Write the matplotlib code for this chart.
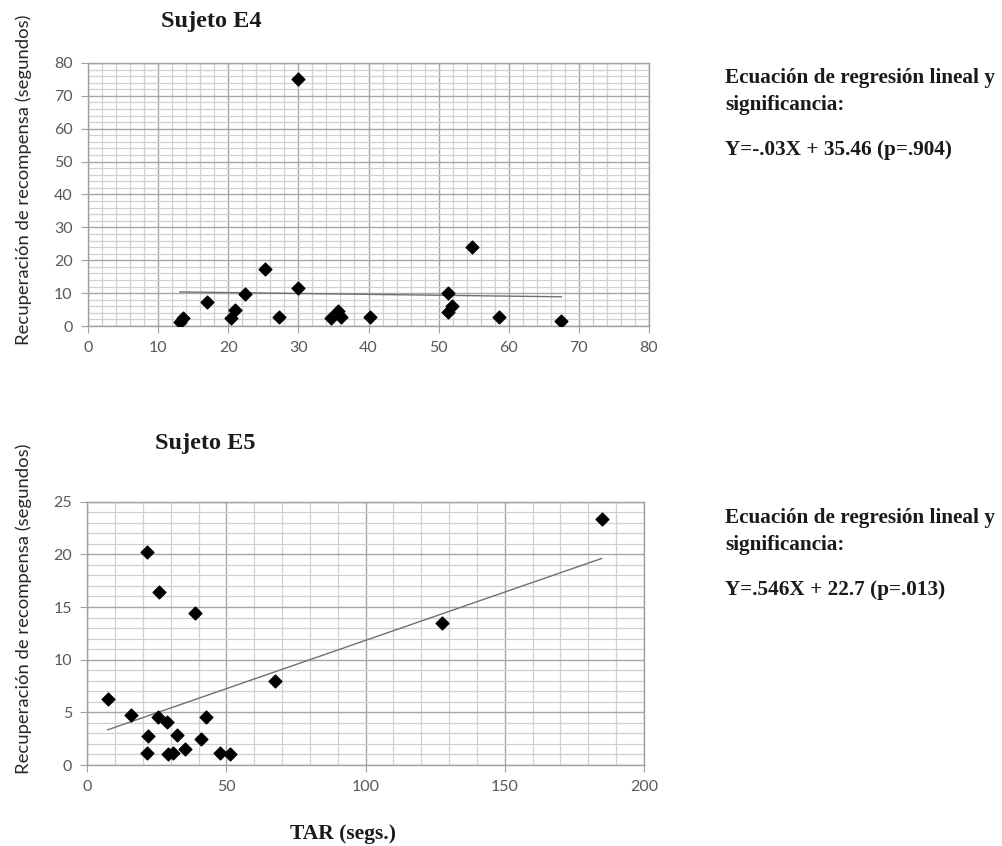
import numpy as np
import matplotlib
matplotlib.use("Agg")
import matplotlib.pyplot as plt
from matplotlib.ticker import MultipleLocator

# ---- Data: Sujeto E4 ----
e4_x = [13.1, 13.5, 16.9, 20.4, 20.9, 22.4, 25.3, 27.2, 30.0, 29.9,
        34.7, 35.6, 36.1, 40.2, 51.4, 51.9, 51.4, 54.7, 58.6, 67.5]
e4_y = [1.3, 2.3, 7.4, 2.3, 4.9, 9.7, 17.3, 2.6, 75.1, 11.5,
        2.3, 4.7, 2.6, 2.6, 10.1, 6.1, 4.2, 23.9, 2.7, 1.6]

# ---- Data: Sujeto E5 ----
e5_x = [7.3, 15.7, 21.5, 21.9, 21.3, 25.8, 25.3, 28.5, 29.1, 30.9,
        32.1, 35.1, 38.6, 40.8, 42.8, 47.6, 51.2, 67.6, 127.5, 184.8]
e5_y = [6.27, 4.72, 20.26, 2.79, 1.17, 16.46, 4.56, 4.08, 1.04, 1.17,
        2.85, 1.49, 14.46, 2.50, 4.56, 1.17, 1.01, 8.01, 13.5, 23.4]

e4_xticks = [0, 10, 20, 30, 40, 50, 60, 70, 80]
e4_yticks = [0, 10, 20, 30, 40, 50, 60, 70, 80]
e5_xticks = [0, 50, 100, 150, 200]
e5_yticks = [0, 5, 10, 15, 20, 25]

title_e4 = "Sujeto E4"
title_e5 = "Sujeto E5"
ylabel = "Recuperación de recompensa (segundos)"
xlabel = "TAR (segs.)"
eq_head1 = "Ecuación de regresión lineal y"
eq_head2 = "significancia:"
eq_e4 = "Y=-.03X + 35.46 (p=.904)"
eq_e5 = "Y=.546X + 22.7 (p=.013)"

SERIF = "Liberation Serif"
SANS = "Lato"
TICK_COLOR = "#595959"
GRID_MAJ = "#a6a6a6"
GRID_MIN = "#d0d0d0"
TXT = "#1a1a1a"

fig = plt.figure(figsize=(10.03, 8.46), dpi=100)


def style_axes(ax, xmin, ymin, xticks, yticks):
    ax.set_xlim(xticks[0], xticks[-1])
    ax.set_ylim(yticks[0], yticks[-1])
    ax.set_xticks(xticks)
    ax.set_yticks(yticks)
    ax.xaxis.set_minor_locator(MultipleLocator(xmin))
    ax.yaxis.set_minor_locator(MultipleLocator(ymin))
    ax.grid(which="minor", color=GRID_MIN, linewidth=0.9)
    ax.grid(which="major", color=GRID_MAJ, linewidth=1.0)
    ax.set_axisbelow(True)
    for s in ax.spines.values():
        s.set_color("#a0a0a0")
        s.set_linewidth(1.0)
    ax.tick_params(which="major", length=5, color="#a0a0a0", labelsize=11.5,
                   labelcolor=TICK_COLOR, pad=6)
    ax.tick_params(which="minor", length=0)
    for lab in ax.get_xticklabels() + ax.get_yticklabels():
        lab.set_fontfamily(SANS)


def trend(ax, x, y):
    x = np.asarray(x)
    y = np.asarray(y)
    m, b = np.polyfit(x, y, 1)
    xs = np.array([x.min(), x.max()])
    ax.plot(xs, m * xs + b, color="#707070", linewidth=1.0, zorder=2)


def ftext(xp, yp, s, **kw):
    fig.text(xp / 1003, 1 - yp / 846, s, **kw)


# ---- Top chart ----
ax1 = fig.add_axes([88 / 1003, 1 - 326 / 846, 561 / 1003, 263 / 846])
style_axes(ax1, 2, 2, e4_xticks, e4_yticks)
ax1.scatter(e4_x, e4_y, marker="D", s=42, color="black", zorder=3)
trend(ax1, e4_x, e4_y)
ftext(24, 180, ylabel, fontfamily=SANS, fontsize=13.3, color="#262626",
      rotation=90, ha="center", va="center")
ftext(211, 21, title_e4, fontfamily=SERIF, fontweight="bold", fontsize=17.5,
      ha="center", va="center", color=TXT)

# ---- Bottom chart ----
ax2 = fig.add_axes([87.3 / 1003, 1 - 765 / 846, 556.7 / 1003, 263.3 / 846])
style_axes(ax2, 10, 1, e5_xticks, e5_yticks)
ax2.scatter(e5_x, e5_y, marker="D", s=42, color="black", zorder=3)
trend(ax2, e5_x, e5_y)
ftext(24, 609, ylabel, fontfamily=SANS, fontsize=13.3, color="#262626",
      rotation=90, ha="center", va="center")
ftext(205, 443, title_e5, fontfamily=SERIF, fontweight="bold", fontsize=17.5,
      ha="center", va="center", color=TXT)
ftext(343, 834, xlabel, fontfamily=SERIF, fontweight="bold", fontsize=15.5,
      ha="center", va="center", color=TXT)

# ---- Equation text ----
for y0, eq in [(78, eq_e4), (518, eq_e5)]:
    ftext(725, y0, eq_head1, fontfamily=SERIF, fontweight="bold", fontsize=15.3,
          ha="left", va="center", color=TXT)
    ftext(725, y0 + 27, eq_head2, fontfamily=SERIF, fontweight="bold", fontsize=15.3,
          ha="left", va="center", color=TXT)
    ftext(725, y0 + 72, eq, fontfamily=SERIF, fontweight="bold", fontsize=15.3,
          ha="left", va="center", color=TXT)

fig.savefig("out.png", dpi=100, facecolor="white")
